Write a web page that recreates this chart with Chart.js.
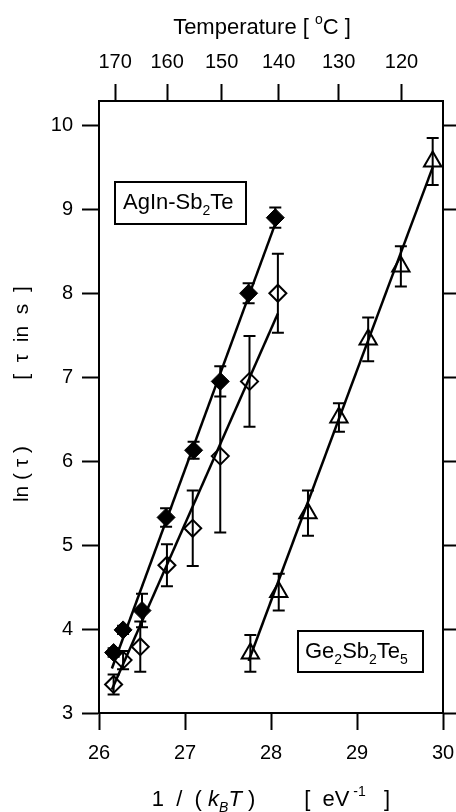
<!DOCTYPE html>
<html>
<head>
<meta charset="utf-8">
<script src="https://cdn.jsdelivr.net/npm/chart.js@4/dist/chart.umd.min.js"></script>
<style>
  html, body { margin: 0; padding: 0; background: #fff; }
  canvas { display: block; }
</style>
</head>
<body>
<canvas id="arrhenius" width="456" height="812"></canvas>
<script>
// AgIn-Sb2Te, filled diamonds
const filledX = [26.17, 26.28, 26.50, 26.78, 27.10, 27.41, 27.74, 28.05];
const filledY = [3.72, 3.99, 4.22, 5.33, 6.13, 6.95, 8.00, 8.90];
const filledErr = [0.05, 0.05, 0.20, 0.11, 0.10, 0.18, 0.12, 0.12];

// AgIn-Sb2Te, open diamonds
const openX = [26.17, 26.28, 26.48, 26.79, 27.09, 27.41, 27.75, 28.08];
const openY = [3.34, 3.63, 3.79, 4.76, 5.20, 6.06, 6.95, 8.00];
const openErr = [0.12, 0.11, 0.30, 0.25, 0.45, 0.91, 0.54, 0.47];

// Ge2Sb2Te5, open triangles
const triX = [27.76, 28.09, 28.43, 28.79, 29.13, 29.51, 29.88];
const triY = [3.71, 4.44, 5.38, 6.52, 7.45, 8.32, 9.57];
const triErr = [0.22, 0.22, 0.27, 0.17, 0.26, 0.24, 0.28];

// fitted lines (end points)
const fitFilledX = [26.15, 28.05];
const fitFilledY = [3.53, 8.83];
const fitOpenX = [26.15, 28.08];
const fitOpenY = [3.28, 7.76];
const fitTriX = [27.74, 29.88];
const fitTriY = [3.62, 9.50];

const xTicks = [26, 27, 28, 29, 30];
const yTicks = [3, 4, 5, 6, 7, 8, 9, 10];
const tempTicks = [170, 160, 150, 140, 130, 120];
const kB = 8.617e-5;

const FONT = "'Liberation Sans', Arial, sans-serif";

const pts = (xs, ys) => xs.map((x, i) => ({ x: x, y: ys[i] }));

function richText(ctx, parts, x, y, size, align) {
    // parts: [text, style]  style: '' | 'i' | 'sub' | 'isub' | 'sup'
    const fontFor = s => {
        const small = (s === 'sub' || s === 'isub' || s === 'sup');
        const ital = (s === 'i' || s === 'isub');
        return (ital ? 'italic ' : '') + (small ? Math.round(size * 0.65) : size) + 'px ' + FONT;
    };
    let total = 0;
    parts.forEach(p => { ctx.font = fontFor(p[1]); total += ctx.measureText(p[0]).width; });
    let cx = align === 'center' ? x - total / 2 : x;
    ctx.textAlign = 'left';
    parts.forEach(p => {
        ctx.font = fontFor(p[1]);
        let dy = 0;
        if (p[1] === 'sub' || p[1] === 'isub') dy = size * 0.25;
        if (p[1] === 'sup') dy = -size * 0.45;
        ctx.fillText(p[0], cx, y + dy);
        cx += ctx.measureText(p[0]).width;
    });
}

const errorBars = {
    id: 'errorBars',
    beforeDatasetsDraw(chart) {
        const ctx = chart.ctx, xs = chart.scales.x, ys = chart.scales.y;
        ctx.save();
        ctx.strokeStyle = '#000';
        ctx.lineWidth = 2;
        [[filledX, filledY, filledErr], [openX, openY, openErr], [triX, triY, triErr]].forEach(s => {
            s[0].forEach((xv, i) => {
                const px = xs.getPixelForValue(xv);
                const top = ys.getPixelForValue(s[1][i] + s[2][i]);
                const bot = ys.getPixelForValue(s[1][i] - s[2][i]);
                ctx.beginPath();
                ctx.moveTo(px, top); ctx.lineTo(px, bot);
                ctx.moveTo(px - 6, top); ctx.lineTo(px + 6, top);
                ctx.moveTo(px - 6, bot); ctx.lineTo(px + 6, bot);
                ctx.stroke();
            });
        });
        ctx.restore();
    }
};

const decorations = {
    id: 'decorations',
    afterDraw(chart) {
        const ctx = chart.ctx, a = chart.chartArea;
        ctx.save();
        ctx.fillStyle = '#000';
        ctx.strokeStyle = '#000';
        ctx.textBaseline = 'alphabetic';

        // top title
        richText(ctx, [['Temperature [ ', ''], ['o', 'sup'], ['C ]', '']], 262, 34, 22, 'center');

        // bottom title
        richText(ctx, [['1  /  ( ', ''], ['k', 'i'], ['B', 'isub'], ['T', 'i'], [' )', ''],
                       ['        [  eV', ''], [' -1', 'sup'], ['   ]', '']], 271, 806, 22, 'center');

        // left title, rotated
        ctx.save();
        ctx.translate(22, 0);
        ctx.rotate(-Math.PI / 2);
        ctx.textBaseline = 'middle';
        ctx.textAlign = 'center';
        ctx.font = '21px ' + FONT;
        ctx.fillText('ln ( \u03c4 )', -474, 0);
        ctx.fillText('[  \u03c4  in  s  ]', -333, 0);
        ctx.restore();

        // label boxes
        ctx.lineWidth = 2;
        ctx.strokeRect(a.left + 16, a.top + 81, 131, 42);
        richText(ctx, [['AgIn-Sb', ''], ['2', 'sub'], ['Te', '']], a.left + 24, a.top + 108, 22, 'left');
        ctx.strokeRect(a.left + 199, a.top + 530, 125, 41);
        richText(ctx, [['Ge', ''], ['2', 'sub'], ['Sb', ''], ['2', 'sub'], ['Te', ''], ['5', 'sub']],
                 a.left + 206, a.top + 557, 22, 'left');
        ctx.restore();
    }
};

const tickFont = { family: FONT, size: 20 };
const axisGrid = len => ({ drawOnChartArea: false, tickLength: len, tickWidth: 2, tickColor: '#000' });
const axisBorder = { display: true, color: '#000', width: 2 };

new Chart(document.getElementById('arrhenius'), {
    type: 'scatter',
    data: {
        datasets: [
            { type: 'line', data: pts(fitFilledX, fitFilledY), borderColor: '#000', borderWidth: 2.5, pointRadius: 0, fill: false },
            { type: 'line', data: pts(fitOpenX, fitOpenY), borderColor: '#000', borderWidth: 2.5, pointRadius: 0, fill: false },
            { type: 'line', data: pts(fitTriX, fitTriY), borderColor: '#000', borderWidth: 2.5, pointRadius: 0, fill: false },
            { label: 'AgIn-Sb2Te filled', data: pts(filledX, filledY), pointStyle: 'rectRot', pointRadius: 9,
              backgroundColor: '#000', borderColor: '#000', borderWidth: 1 },
            { label: 'AgIn-Sb2Te open', data: pts(openX, openY), pointStyle: 'rectRot', pointRadius: 8.5,
              backgroundColor: 'rgba(0,0,0,0)', borderColor: '#000', borderWidth: 2 },
            { label: 'Ge2Sb2Te5', data: pts(triX, triY), pointStyle: 'triangle', pointRadius: 10,
              backgroundColor: 'rgba(0,0,0,0)', borderColor: '#000', borderWidth: 2 }
        ]
    },
    options: {
        responsive: false,
        animation: false,
        events: [],
        layout: { padding: 0 },
        plugins: { legend: { display: false }, tooltip: { enabled: false } },
        scales: {
            x: {
                type: 'linear', position: 'bottom', min: 26, max: 30,
                afterBuildTicks: s => { s.ticks = xTicks.map(v => ({ value: v })); },
                afterFit: s => { s.height = 99; s.paddingLeft = 0; s.paddingRight = 0; },
                ticks: { font: tickFont, color: '#000', padding: 11, maxRotation: 0 },
                grid: axisGrid(17), border: axisBorder
            },
            xTop: {
                type: 'linear', position: 'top', min: 26, max: 30,
                afterBuildTicks: s => { s.ticks = tempTicks.map(t => ({ value: 1 / (kB * (t + 273.15)) })); },
                afterFit: s => { s.height = 101; s.paddingLeft = 0; s.paddingRight = 0; },
                ticks: { font: tickFont, color: '#000', padding: 10, autoSkip: false, maxRotation: 0,
                         callback: (v, i) => tempTicks[i] },
                grid: axisGrid(17), border: axisBorder
            },
            y: {
                type: 'linear', position: 'left', min: 3, max: 10.29,
                afterBuildTicks: s => { s.ticks = yTicks.map(v => ({ value: v })); },
                afterFit: s => { s.width = 99; s.paddingTop = 0; s.paddingBottom = 0; },
                ticks: { font: tickFont, color: '#000', padding: 9 },
                grid: axisGrid(17), border: axisBorder
            },
            yRight: {
                type: 'linear', position: 'right', min: 3, max: 10.29,
                afterBuildTicks: s => { s.ticks = yTicks.map(v => ({ value: v })); },
                afterFit: s => { s.width = 13; s.paddingTop = 0; s.paddingBottom = 0; },
                ticks: { display: false },
                grid: axisGrid(13), border: axisBorder
            }
        }
    },
    plugins: [errorBars, decorations]
});
</script>
</body>
</html>
